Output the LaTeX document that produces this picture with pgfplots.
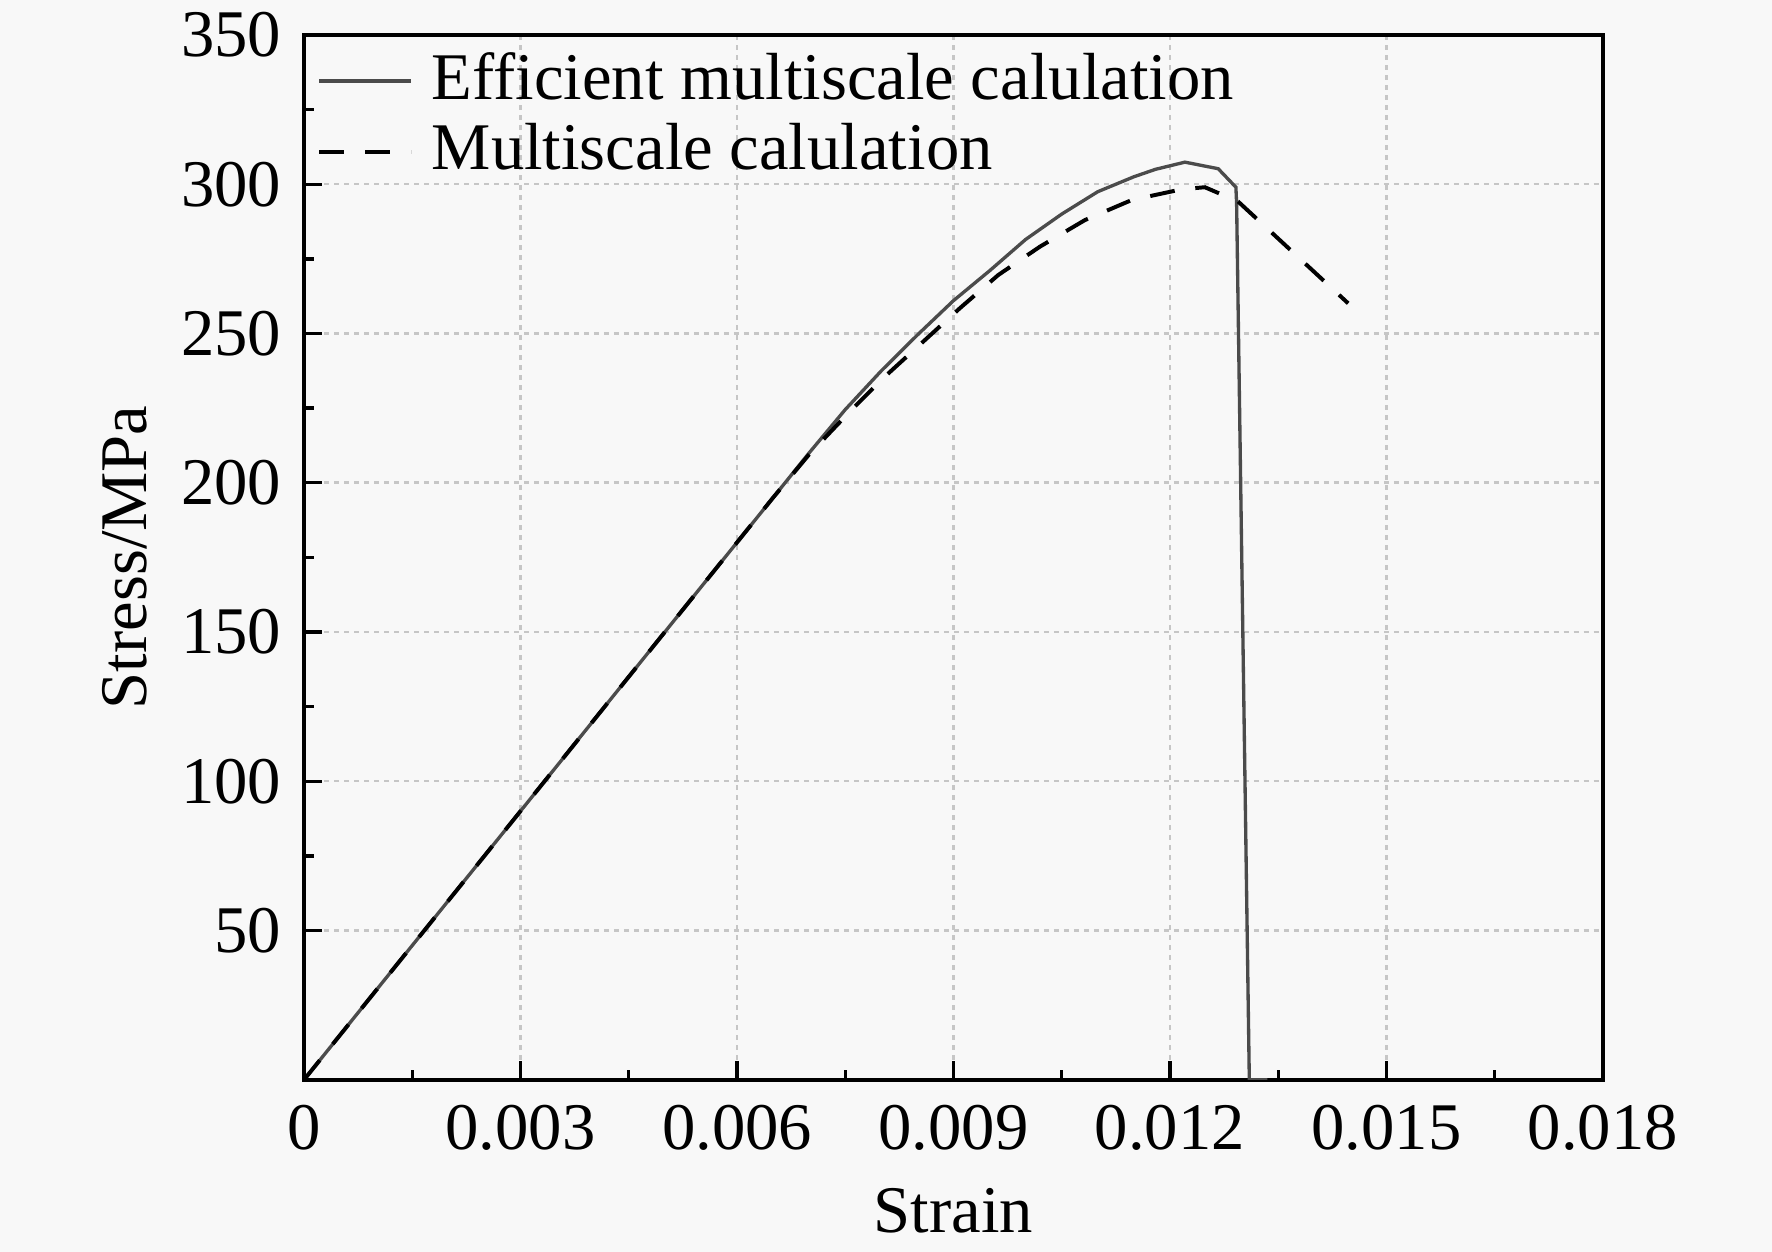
\documentclass[border=0pt]{standalone}
\usepackage{pgfplots}
\pgfplotsset{compat=1.18}
\usepackage{fontspec}
\setmainfont{Liberation Serif}
\usetikzlibrary{backgrounds}
\definecolor{bgcol}{RGB}{248,248,248}
\definecolor{solidgray}{RGB}{75,75,75}
\begin{document}
\fontsize{16}{19}\selectfont
\begin{tikzpicture}
\begin{axis}[
  scale only axis,
  width=311.8pt, height=250.8pt,
  xmin=0, xmax=0.018, ymin=0, ymax=350,
  xtick={0,0.003,0.006,0.009,0.012,0.015,0.018},
  xticklabels={0,0.003,0.006,0.009,0.012,0.015,0.018},
  scaled x ticks=false,
  ytick={50,100,150,200,250,300,350},
  minor x tick num=1, minor y tick num=1,
  xtick pos=bottom, ytick pos=left,
  tick align=inside,
  major tick length=4.4pt, minor tick length=2.4pt,
  every tick/.style={black, line width=0.8pt},
  axis line style={line width=1pt},
  axis background/.style={fill=bgcol},
  grid=major,
  major grid style={gray!45, dash pattern=on 1.2pt off 1.2pt, line width=0.6pt},
  /pgf/number format/assume math mode=true,
  xticklabel style={yshift=-0.5pt},
  xlabel={Strain}, ylabel={Stress/MPa},
  xlabel style={yshift=1.7pt},
  ylabel style={yshift=-2.7pt},
  legend style={at={(0.0,1.0)}, anchor=north west, draw=none, fill=none,
    row sep=-0.6pt, inner sep=3pt, yshift=1pt},
  legend cell align=left,
  legend image code/.code={\draw[#1] (0pt,0pt) -- (22pt,0pt); \path (24.5pt,0pt);},
]
\addplot[solidgray, line width=0.8pt] coordinates {
(0,0) (0.0065,195) (0.0070,210) (0.0075,224.5) (0.0080,237.5)
(0.0085,249.5) (0.0090,261) (0.0095,271) (0.0100,281.5)
(0.0105,290) (0.0110,297.5) (0.0115,302.5) (0.0118,305) (0.012208,307.4)
(0.012669,305.2) (0.012914,299.0) (0.012924,293.6) (0.013100,0) (0.013350,0)
};
\addlegendentry{Efficient multiscale calulation}
\addplot[black, line width=0.95pt, dash pattern=on 6pt off 5pt] coordinates {
(0,0) (0.0065,195) (0.0070,209.5) (0.007566,223.9) (0.008051,235.6)
(0.008559,246.8) (0.00909,258.5) (0.009621,269.6) (0.010199,279.1)
(0.010822,288.0) (0.011469,294.7) (0.012161,298.3) (0.012484,299.0)
(0.012945,294.2) (0.01447,260.1)
};
\addlegendentry{Multiscale calulation}
\end{axis}
\begin{pgfonlayer}{background}
\fill[bgcol] ([shift={(-73pt,-41.3pt)}]current axis.south west) rectangle ([shift={(40.6pt,8.4pt)}]current axis.north east);
\end{pgfonlayer}
\pgfresetboundingbox
\path[use as bounding box] ([shift={(-73pt,-41.3pt)}]current axis.south west) rectangle ([shift={(40.6pt,8.4pt)}]current axis.north east);
\end{tikzpicture}
\end{document}
